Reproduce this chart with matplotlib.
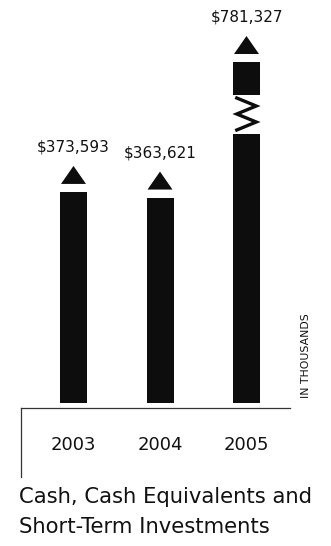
import matplotlib
matplotlib.use("Agg")
import matplotlib.pyplot as plt
from matplotlib.lines import Line2D

years = ["2003", "2004", "2005"]
values = [373593, 363621, 781327]
value_labels = ["$373,593", "$363,621", "$781,327"]
unit_note = "IN THOUSANDS"
title_lines = ["Cash, Cash Equivalents and", "Short-Term Investments"]

W, H = 331, 546
fig = plt.figure(figsize=(W / 100, H / 100), dpi=100)
plt.rcParams["font.family"] = ["DejaVu Sans"]

ax = fig.add_axes([0, 0, 1, 1])
ax.set_axis_off()

PX_X = 86.5          # px per category
U = 1770.0           # data units per px
x0_px = 73.5
ax.set_xlim(-x0_px / PX_X, (W - x0_px) / PX_X)
base_px = 403
ax.set_ylim(-(H - base_px) * U, base_px * U)

bar_w = 27 / PX_X
color = "#0d0d0d"
x = list(range(len(years)))

# break style for the oversized bar (in px above baseline)
break_low_px, zig_low_px, zig_high_px, break_high_px, cap_px = 269, 273, 305, 308, 341
cap_value = cap_px * U

for i, (v, lab) in enumerate(zip(values, value_labels)):
    if v > cap_value:
        ax.bar(x[i], break_low_px * U, width=bar_w, color=color, bottom=0)
        ax.bar(x[i], (cap_px - break_high_px) * U, width=bar_w, color=color,
               bottom=break_high_px * U)
        n = 5
        xs, ys = [], []
        for k in range(n):
            frac = k / (n - 1)
            xs.append(x[i] + (-0.36 if k % 2 == 0 else 0.36) * bar_w)
            ys.append((zig_high_px - frac * (zig_high_px - zig_low_px)) * U)
        ax.plot(xs, ys, color=color, lw=2.4, solid_joinstyle="miter")
        top = cap_value
    else:
        ax.bar(x[i], v, width=bar_w, color=color)
        top = v
    tb = top + 8 * U
    th = 18 * U
    hw = 12.5 / PX_X
    ax.fill([x[i] - hw, x[i] + hw, x[i]], [tb, tb, tb + th], color=color, lw=0)
    ax.text(x[i], tb + th + 19 * U, lab, ha="center", va="center",
            fontsize=11, color="#111111")
    ax.text(x[i], -(445 - base_px) * U, years[i], ha="center", va="center",
            fontsize=13, color="#111111")

def fx(p):
    return p / W

def fy(p):
    return 1 - p / H

fig.add_artist(Line2D([fx(21), fx(290)], [fy(408), fy(408)], color="#333333", lw=0.9))
fig.add_artist(Line2D([fx(21), fx(21)], [fy(408), fy(477)], color="#333333", lw=0.9))

fig.text(fx(306), fy(356), unit_note, rotation=90, ha="center", va="center",
         fontsize=7.8, color="#111111")

fig.text(fx(19), fy(503), title_lines[0], ha="left", va="baseline",
         fontsize=15.2, color="#111111")
fig.text(fx(19), fy(533), title_lines[1], ha="left", va="baseline",
         fontsize=15.2, color="#111111")

fig.savefig("out.png", dpi=100, facecolor="white")
